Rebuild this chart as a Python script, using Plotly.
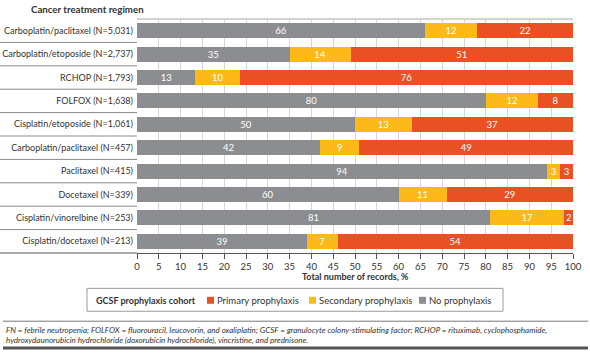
import plotly.graph_objects as go

regimens = [
    "Carboplatin/paclitaxel (N=5,031)",
    "Carboplatin/etoposide (N=2,737)",
    "RCHOP (N=1,793)",
    "FOLFOX (N=1,638)",
    "Cisplatin/etoposide (N=1,061)",
    "Carboplatin/paclitaxel (N=457)",
    "Paclitaxel (N=415)",
    "Docetaxel (N=339)",
    "Cisplatin/vinorelbine (N=253)",
    "Cisplatin/docetaxel (N=213)",
]
no_prophylaxis = [66, 35, 13.4, 80, 50, 42, 94, 60, 81, 39]
secondary_prophylaxis = [12, 14, 10.2, 12, 13, 9, 3, 11, 17, 7]
primary_prophylaxis = [22, 51, 76.4, 8, 37, 49, 3, 29, 2, 54]
x_ticks = list(range(0, 101, 5))
series_names = ["No prophylaxis", "Secondary prophylaxis", "Primary prophylaxis"]

GRAY = "#8b8d90"
YELLOW = "#fcb918"
RED = "#e95125"
FONT = "Lato"
TXT = "#333333"

W, H = 590, 353
L, R, T, B = 137, 17, 18.5, 99.5
pw = W - L - R
ph = H - T - B

def px(xpix):
    return (xpix - L) / pw

def py(ypix):
    return (H - B - ypix) / ph

fig = go.Figure()
for name, vals, col in zip(series_names,
                           [no_prophylaxis, secondary_prophylaxis, primary_prophylaxis],
                           [GRAY, YELLOW, RED]):
    fig.add_trace(go.Bar(
        name=name, x=vals, y=regimens, orientation="h",
        marker=dict(color=col, line=dict(width=0)),
        texttemplate="%{x:.0f}", textposition="inside",
        insidetextanchor="middle", textangle=0,
        textfont=dict(color="white", size=9.5, family=FONT),
        hoverinfo="skip", showlegend=False,
    ))

shapes = []
# row separators in label area
for k in range(len(regimens) - 1):
    shapes.append(dict(type="line", xref="paper", yref="y",
                       x0=px(0), x1=0, y0=k + 0.5, y1=k + 0.5,
                       line=dict(color="#8a8a8a", width=1)))
shapes.append(dict(type="line", xref="paper", yref="paper",
                   x0=px(0), x1=0, y0=0, y1=0,
                   line=dict(color="#555555", width=1)))
# top border line of plot
shapes.append(dict(type="line", xref="paper", yref="paper",
                   x0=0, x1=1, y0=1, y1=1,
                   line=dict(color="#c4c4c4", width=1.5)))
# footnote separators
shapes.append(dict(type="line", xref="paper", yref="paper",
                   x0=px(3), x1=px(588), y0=py(322), y1=py(322),
                   line=dict(color="#777777", width=1)))
shapes.append(dict(type="line", xref="paper", yref="paper",
                   x0=px(3), x1=px(588), y0=py(349), y1=py(349),
                   line=dict(color="#555555", width=3)))

# manual legend box
shapes.append(dict(type="rect", xref="paper", yref="paper",
                   x0=px(87), x1=px(503), y0=py(289), y1=py(312),
                   line=dict(color="#9a9a9a", width=1), fillcolor="white"))

annotations = [
    dict(text="<b>Cancer treatment regimen</b>", xref="paper", yref="paper",
         x=px(29), y=py(8), xanchor="left", yanchor="middle", showarrow=False,
         font=dict(size=9.7, color=TXT, family=FONT)),
    dict(text="<b>Total number of records, %</b>", xref="paper", yref="paper",
         x=0.5, y=py(277), xanchor="center", yanchor="middle", showarrow=False,
         font=dict(size=9, color=TXT, family=FONT)),
    dict(text="<i>FN = febrile neutropenia; FOLFOX = fluorouracil, leucovorin, and oxaliplatin; "
              "GCSF = granulocyte colony-stimulating factor; RCHOP = rituximab, cyclophosphamide,<br>"
              "hydroxydaunorubicin hydrochloride (doxorubicin hydrochloride), vincristine, and prednisone.</i>",
         xref="paper", yref="paper", x=px(4), y=py(336), xanchor="left", yanchor="middle",
         align="left", showarrow=False,
         font=dict(size=8, color=TXT, family=FONT)),
    dict(text="<b>GCSF prophylaxis cohort</b>", xref="paper", yref="paper",
         x=px(94), y=py(301), xanchor="left", yanchor="middle", showarrow=False,
         font=dict(size=9, color=TXT, family=FONT)),
]

legend_items = [
    ("Primary prophylaxis", RED, 207),
    ("Secondary prophylaxis", YELLOW, 309),
    ("No prophylaxis", GRAY, 419),
]
for name, col, x0 in legend_items:
    shapes.append(dict(type="rect", xref="paper", yref="paper",
                       x0=px(x0), x1=px(x0 + 7), y0=py(297.5), y1=py(304.5),
                       line=dict(width=0), fillcolor=col))
    annotations.append(dict(text=name, xref="paper", yref="paper",
                            x=px(x0 + 8), y=py(301), xanchor="left", yanchor="middle",
                            showarrow=False, font=dict(size=9.5, color=TXT, family=FONT)))

fig.update_layout(
    width=W, height=H,
    margin=dict(l=L, r=R, t=T, b=B, pad=0),
    barmode="stack", bargap=0.36,
    plot_bgcolor="white", paper_bgcolor="white",
    font=dict(family=FONT, color=TXT, size=9.5),
    uniformtext=dict(minsize=9, mode="show"),
    showlegend=False,
    xaxis=dict(range=[0, 100], tickvals=x_ticks, ticks="outside", ticklen=5,
               tickcolor="#555555", showgrid=True, gridcolor="#d6d6d6", gridwidth=1,
               showline=True, linecolor="#555555", linewidth=1, zeroline=False,
               automargin=False,
               tickfont=dict(size=9.5, color=TXT), fixedrange=True),
    yaxis=dict(categoryorder="array", categoryarray=regimens, autorange="reversed",
               showgrid=False, zeroline=False, showline=False, ticks="",
               ticklabelstandoff=3, automargin=False,
               tickfont=dict(size=9, color=TXT), fixedrange=True),
    shapes=shapes, annotations=annotations,
)

fig.write_html(
    "out.html",
    config={"displayModeBar": False, "responsive": False},
    post_script="document.body.style.margin='0';document.body.style.padding='0';"
                "document.body.style.overflow='hidden';",
)
